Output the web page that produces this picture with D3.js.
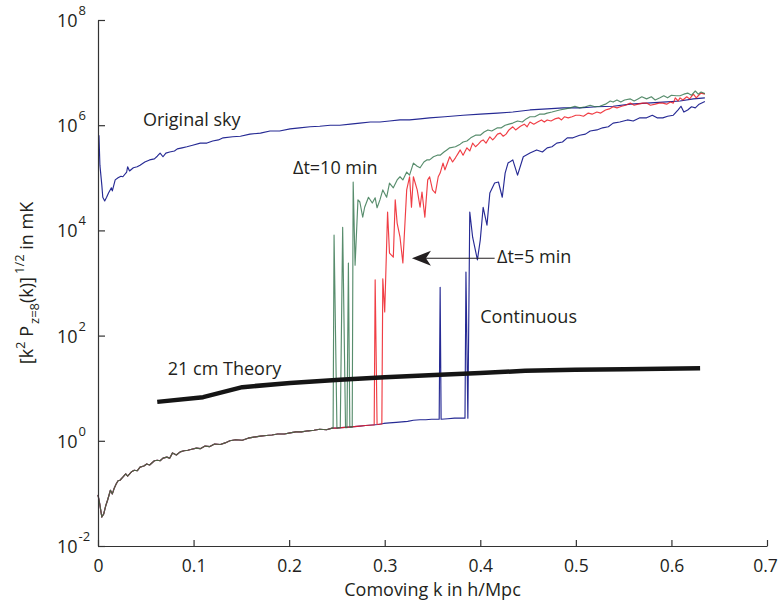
<!DOCTYPE html>
<html>
<head>
<meta charset="utf-8">
<script src="https://cdn.jsdelivr.net/npm/d3@7"></script>
<style>
  html, body { margin: 0; padding: 0; background: #fff; }
  svg { display: block; font-family: "Open Sans", "Noto Sans", sans-serif; }
  .lbl { font-size: 18px; fill: #231f20; }
</style>
</head>
<body>
<svg id="chart" width="778" height="607"></svg>
<script>
// Comoving wavenumber ticks and power-of-ten decades on the y axis
const kTicks = [0, 0.1, 0.2, 0.3, 0.4, 0.5, 0.6, 0.7];
const decadeTicks = [-2, 0, 2, 4, 6, 8];

// All curves are stored as [k (h/Mpc), log10 of (k^2 P)^(1/2) in mK]

// Residual after foreground subtraction, shared by all three cleaned maps
const residualLog = [
  [0,-1.03],[0.002,-1.22],[0.004,-1.45],[0.006,-1.39],[0.008,-1.24],[0.010,-1.13],[0.013,-0.94],
  [0.015,-1.01],[0.017,-0.90],[0.019,-0.82],[0.021,-0.76],[0.023,-0.75],[0.026,-0.69],[0.029,-0.63],
  [0.031,-0.67],[0.035,-0.59],[0.038,-0.56],[0.041,-0.57],[0.044,-0.50],[0.048,-0.48],[0.051,-0.44],
  [0.054,-0.46],[0.059,-0.38],[0.062,-0.37],[0.065,-0.38],[0.068,-0.33],[0.072,-0.31],[0.075,-0.33],
  [0.078,-0.23],[0.082,-0.27],[0.086,-0.21],[0.090,-0.19],[0.094,-0.18],[0.098,-0.16],[0.103,-0.14],
  [0.107,-0.15],[0.112,-0.10],[0.117,-0.11],[0.122,-0.06],[0.128,-0.07],[0.133,-0.04],[0.138,0.00],
  [0.144,0.02],[0.151,0.01],[0.157,0.05],[0.163,0.07],[0.170,0.09],[0.176,0.10],[0.182,0.11],
  [0.188,0.13],[0.195,0.13],[0.201,0.15],[0.207,0.17],[0.213,0.17],[0.220,0.19],[0.226,0.20],
  [0.232,0.22],[0.239,0.21],[0.245,0.24],[0.249,0.24],[0.255,0.25],[0.262,0.26],[0.268,0.27],
  [0.274,0.28],[0.280,0.29],[0.287,0.30],[0.293,0.31],[0.299,0.33],[0.305,0.34],[0.312,0.35],
  [0.318,0.36],[0.324,0.37],[0.330,0.39],[0.337,0.40],[0.343,0.40],[0.349,0.41],[0.356,0.41]
];

// Uncleaned sky
const originalSkyLog = [
  [0.001,5.81],[0.002,5.24],[0.004,4.86],[0.005,4.63],[0.007,4.56],[0.009,4.63],[0.011,4.71],
  [0.014,4.81],[0.015,4.75],[0.018,4.96],[0.021,5.00],[0.024,5.03],[0.026,5.02],[0.030,5.11],
  [0.031,5.21],[0.033,5.13],[0.037,5.19],[0.041,5.21],[0.044,5.24],[0.049,5.30],[0.054,5.34],
  [0.059,5.36],[0.062,5.41],[0.065,5.47],[0.068,5.40],[0.071,5.47],[0.075,5.49],[0.080,5.51],
  [0.083,5.55],[0.088,5.57],[0.093,5.59],[0.099,5.62],[0.107,5.66],[0.114,5.66],[0.120,5.70],
  [0.126,5.72],[0.131,5.76],[0.141,5.78],[0.149,5.79],[0.159,5.83],[0.170,5.85],[0.180,5.89],
  [0.190,5.89],[0.201,5.93],[0.211,5.95],[0.222,5.97],[0.232,5.98],[0.243,6.00],[0.253,6.00],
  [0.264,6.02],[0.274,6.04],[0.285,6.06],[0.295,6.06],[0.305,6.08],[0.316,6.10],[0.326,6.10],
  [0.337,6.12],[0.347,6.14],[0.363,6.16],[0.382,6.19],[0.400,6.21],[0.418,6.23],[0.434,6.25],
  [0.452,6.29],[0.470,6.31],[0.487,6.33],[0.504,6.33],[0.522,6.35],[0.539,6.36],[0.557,6.40],
  [0.574,6.42],[0.591,6.44],[0.609,6.46],[0.623,6.50],[0.635,6.52]
];

// Δt = 10 min cleaning: leaves the residual near k = 0.25
const dt10Log = [
  [0.246,0.24],[0.247,3.91],[0.250,0.24],[0.2535,0.25],[0.256,4.06],[0.259,0.25],[0.2605,0.25],
  [0.262,3.38],[0.2635,0.26],[0.266,0.26],[0.267,4.92],[0.269,3.34],[0.272,4.58],
  [0.274,4.54],[0.277,4.25],[0.279,4.44],[0.283,4.63],[0.287,4.52],[0.290,4.62],[0.292,4.43],
  [0.295,4.58],[0.298,4.77],[0.302,4.63],[0.305,4.90],[0.309,4.81],[0.313,4.96],[0.316,5.02],
  [0.319,4.96],[0.323,5.11],[0.326,5.05],[0.330,5.28],[0.334,5.22],[0.337,5.19],[0.341,5.30],
  [0.344,5.34],[0.347,5.34],[0.351,5.40],[0.355,5.43],[0.358,5.43],[0.362,5.49],[0.365,5.53],
  [0.368,5.57],[0.374,5.59],[0.379,5.64],[0.382,5.68],[0.386,5.70],[0.390,5.76],[0.395,5.81],
  [0.400,5.81],[0.404,5.87],[0.408,5.91],[0.412,5.89],[0.418,5.95],[0.422,5.95],[0.426,6.00],
  [0.430,6.02],[0.434,6.04],[0.439,6.08],[0.444,6.06],[0.448,6.12],[0.452,6.16],[0.457,6.16],
  [0.462,6.21],[0.467,6.21],[0.470,6.23],[0.475,6.25],[0.479,6.27],[0.483,6.29],[0.489,6.31],
  [0.494,6.33],[0.499,6.36],[0.504,6.33],[0.510,6.35],[0.515,6.38],[0.520,6.35],[0.525,6.36],
  [0.531,6.40],[0.536,6.46],[0.539,6.44],[0.543,6.48],[0.547,6.44],[0.551,6.48],[0.557,6.50],
  [0.561,6.46],[0.565,6.50],[0.569,6.54],[0.574,6.50],[0.579,6.54],[0.583,6.48],[0.588,6.52],
  [0.592,6.56],[0.596,6.52],[0.600,6.57],[0.605,6.56],[0.609,6.56],[0.613,6.59],[0.617,6.61],
  [0.621,6.57],[0.625,6.65],[0.628,6.59],[0.631,6.63],[0.635,6.60]
];

// Δt = 5 min cleaning
const dt5Log = [
  [0.289,0.30],[0.290,3.06],[0.292,0.31],[0.297,0.32],[0.298,3.08],[0.300,2.45],[0.303,4.35],
  [0.305,3.57],[0.309,3.49],[0.311,4.58],[0.313,4.14],[0.316,3.87],[0.319,3.38],[0.323,4.77],
  [0.326,5.02],[0.328,4.44],[0.330,5.02],[0.334,4.77],[0.337,4.44],[0.339,4.73],[0.342,4.25],
  [0.345,4.96],[0.347,5.02],[0.350,4.77],[0.353,4.71],[0.356,5.02],[0.358,5.09],[0.361,5.28],
  [0.363,5.15],[0.366,5.30],[0.368,5.40],[0.371,5.30],[0.374,5.38],[0.377,5.47],[0.379,5.53],
  [0.382,5.43],[0.386,5.57],[0.389,5.51],[0.392,5.66],[0.395,5.59],[0.398,5.64],[0.401,5.70],
  [0.403,5.72],[0.406,5.66],[0.410,5.78],[0.413,5.72],[0.415,5.76],[0.418,5.83],[0.421,5.85],
  [0.424,5.79],[0.427,5.83],[0.430,5.91],[0.434,5.97],[0.437,5.91],[0.442,5.98],[0.446,6.02],
  [0.449,5.97],[0.452,6.06],[0.456,6.02],[0.460,6.06],[0.464,6.10],[0.467,6.06],[0.470,6.10],
  [0.474,6.08],[0.478,6.12],[0.482,6.14],[0.485,6.10],[0.488,6.16],[0.492,6.14],[0.496,6.16],
  [0.500,6.19],[0.504,6.19],[0.508,6.17],[0.513,6.23],[0.517,6.21],[0.522,6.25],[0.526,6.23],
  [0.531,6.29],[0.535,6.31],[0.539,6.35],[0.543,6.33],[0.548,6.36],[0.552,6.38],[0.557,6.42],
  [0.561,6.38],[0.565,6.40],[0.570,6.42],[0.574,6.42],[0.578,6.38],[0.583,6.40],[0.587,6.42],
  [0.591,6.42],[0.595,6.40],[0.599,6.44],[0.602,6.42],[0.604,6.52],[0.607,6.46],[0.609,6.52],
  [0.612,6.48],[0.616,6.54],[0.619,6.50],[0.623,6.59],[0.626,6.52],[0.628,6.56],[0.631,6.61],
  [0.635,6.59]
];

// Continuous cleaning
const continuousLog = [
  [0.357,0.41],[0.358,2.92],[0.359,0.41],[0.366,0.42],[0.373,0.43],[0.380,0.43],[0.384,0.43],
  [0.385,3.21],[0.387,0.43],[0.389,4.35],[0.392,3.87],[0.397,3.44],[0.400,3.82],[0.403,4.44],
  [0.407,4.10],[0.410,4.71],[0.415,4.90],[0.419,4.92],[0.423,4.63],[0.426,5.09],[0.429,5.28],
  [0.434,5.34],[0.439,5.05],[0.445,5.40],[0.452,5.47],[0.459,5.53],[0.465,5.49],[0.470,5.57],
  [0.475,5.59],[0.480,5.66],[0.486,5.68],[0.491,5.76],[0.497,5.76],[0.504,5.81],[0.510,5.83],
  [0.515,5.89],[0.522,5.91],[0.528,5.95],[0.534,5.97],[0.539,6.04],[0.546,6.06],[0.554,6.10],
  [0.560,6.08],[0.567,6.14],[0.574,6.14],[0.580,6.19],[0.585,6.14],[0.591,6.14],[0.596,6.17],
  [0.602,6.19],[0.607,6.29],[0.610,6.36],[0.613,6.25],[0.617,6.29],[0.621,6.35],[0.625,6.33],
  [0.629,6.40],[0.635,6.45]
];

// Predicted 21 cm signal
const theoryLog = [
  [0.062,0.74],[0.110,0.83],[0.151,1.02],[0.201,1.10],[0.253,1.16],[0.300,1.21],[0.352,1.25],
  [0.400,1.29],[0.447,1.33],[0.499,1.35],[0.551,1.36],[0.630,1.38]
];

const svg = d3.select("#chart");
const x = d3.scaleLinear().domain([0, 0.7]).range([98, 767]);
const y = d3.scaleLog().domain([1e-2, 1e8]).range([546, 20]);

const line = d3.line()
  .x(d => x(d[0]))
  .y(d => y(Math.pow(10, d[1])));

// a cleaned map follows the shared residual until its own branch begins
const withResidual = branch =>
  residualLog.filter(d => d[0] < branch[0][0]).concat(branch);

const blue = "#262a94", red = "#ed1c24", green = "#2e7049";

const curves = [
  { data: originalSkyLog, color: blue, opacity: 1 },
  { data: withResidual(continuousLog), color: blue, opacity: 1 },
  { data: withResidual(dt5Log), color: red, opacity: 0.85 },
  { data: withResidual(dt10Log), color: green, opacity: 0.8 }
];

svg.append("g").selectAll("path").data(curves).join("path")
  .attr("d", c => line(c.data))
  .attr("fill", "none")
  .attr("stroke", c => c.color)
  .attr("stroke-opacity", c => c.opacity)
  .attr("stroke-width", 1.15)
  .attr("stroke-linejoin", "round");

svg.append("path")
  .attr("d", line(theoryLog))
  .attr("fill", "none")
  .attr("stroke", "#151515")
  .attr("stroke-width", 4.5)
  .attr("stroke-linejoin", "round");

// Axes: left and bottom only, ticks pointing into the plot
const axisColor = "#333";
const yAxis = svg.append("g").attr("transform", `translate(${x(0)},0)`)
  .call(d3.axisLeft(y).tickValues(decadeTicks.map(e => Math.pow(10, e)))
    .tickSizeInner(-7).tickSizeOuter(0).tickFormat(""));
const xAxis = svg.append("g").attr("transform", `translate(0,${y(1e-2)})`)
  .call(d3.axisBottom(x).tickValues(kTicks)
    .tickSizeInner(-6).tickSizeOuter(0).tickPadding(14)
    .tickFormat(d => d === 0 ? "0" : d3.format(".1f")(d)));
[yAxis, xAxis].forEach(g => {
  g.selectAll("path, line").attr("stroke", axisColor).attr("stroke-width", 1.2);
});
xAxis.selectAll("text").attr("font-size", 17.5).attr("fill", "#231f20")
  .attr("font-family", '"Open Sans", sans-serif');
// keep the last label inside the canvas
xAxis.selectAll(".tick").filter(d => d === 0.7).select("text").attr("dx", -2);

// Power-of-ten labels
const yl = svg.append("g");
decadeTicks.forEach(e => {
  const t = yl.append("text").attr("class", "lbl")
    .attr("x", 57).attr("y", y(Math.pow(10, e)) + 7);
  t.append("tspan").text("10");
  t.append("tspan").attr("dy", -12).attr("dx", 1).attr("font-size", 13).text(String(e));
});

// Axis titles
svg.append("text").attr("class", "lbl")
  .attr("x", (x(0) + x(0.7)) / 2).attr("y", 596)
  .attr("text-anchor", "middle")
  .text("Comoving k in h/Mpc");

const yt = svg.append("text").attr("class", "lbl")
  .attr("transform", `translate(33,${(y(1e8) + y(1e-2)) / 2}) rotate(-90)`)
  .attr("text-anchor", "middle");
yt.append("tspan").text("[k");
yt.append("tspan").attr("dy", -8).attr("font-size", 13).text("2");
yt.append("tspan").attr("dy", 8).text(" P");
yt.append("tspan").attr("dy", 6).attr("dx", 2).attr("font-size", 13).text("z=8");
yt.append("tspan").attr("dy", -6).text("(k)]");
yt.append("tspan").attr("dy", -9).attr("dx", 3).attr("font-size", 13).text("1/2");
yt.append("tspan").attr("dy", 9).text(" in mK");

// Curve labels
const labels = [
  { text: "Original sky", k: 0.047, e: 5.98 },
  { text: "\u0394t=10 min", k: 0.204, e: 5.07 },
  { text: "\u0394t=5 min", k: 0.4175, e: 3.38 },
  { text: "Continuous", k: 0.400, e: 2.24 },
  { text: "21 cm Theory", k: 0.073, e: 1.25 }
];
svg.append("g").selectAll("text").data(labels).join("text")
  .attr("class", "lbl")
  .attr("x", d => x(d.k)).attr("y", d => y(Math.pow(10, d.e)))
  .text(d => d.text);

// Arrow from the Δt=5 min label to the dip of its curve
const arrowFrom = [0.415, 3.47], arrowTo = [0.3285, 3.47];
const ax0 = x(arrowFrom[0]), ax1 = x(arrowTo[0]), ay = y(Math.pow(10, arrowTo[1]));
svg.append("line")
  .attr("x1", ax0).attr("y1", ay).attr("x2", ax1 + 12).attr("y2", ay)
  .attr("stroke", "#231f20").attr("stroke-width", 1.1);
svg.append("path")
  .attr("d", `M${ax1},${ay} L${ax1 + 19},${ay - 7.5} L${ax1 + 14},${ay} L${ax1 + 19},${ay + 7.5} Z`)
  .attr("fill", "#231f20");
</script>
</body>
</html>
